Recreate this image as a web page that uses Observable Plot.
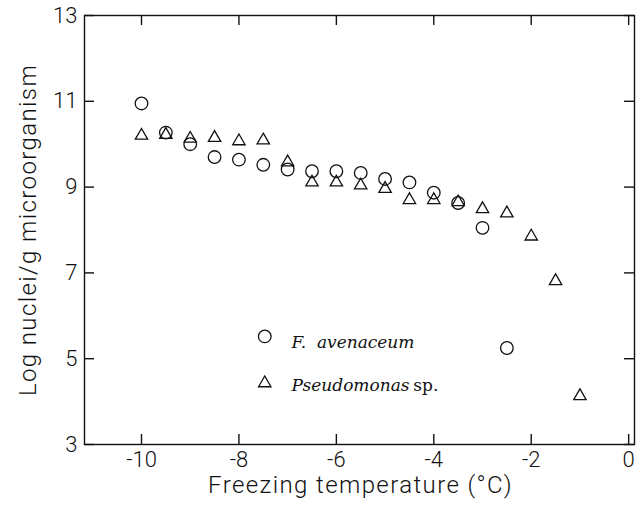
<!DOCTYPE html>
<html>
<head>
<meta charset="utf-8">
<script src="https://cdn.jsdelivr.net/npm/d3@7"></script>
<script src="https://cdn.jsdelivr.net/npm/@observablehq/plot@0.6"></script>
<style>
  html, body { margin: 0; padding: 0; background: #fff; }
  #chart svg { display: block; }
  #chart svg g[aria-label="text"][font-family^="Roboto"] text { letter-spacing: 1.4px; }
</style>
</head>
<body>
<div id="chart"></div>
<script>
// Data
const temps = [-10, -9.5, -9, -8.5, -8, -7.5, -7, -6.5, -6, -5.5, -5, -4.5, -4, -3.5, -3, -2.5];
const fusarium = [10.95, 10.27, 10.0, 9.7, 9.64, 9.52, 9.41, 9.37, 9.37, 9.33, 9.19, 9.11, 8.87, 8.63, 8.05, 5.25];
const pseudoTemps = [-10, -9.5, -9, -8.5, -8, -7.5, -7, -6.5, -6, -5.5, -5, -4.5, -4, -3.5, -3, -2.5, -2, -1.5, -1];
const pseudomonas = [10.2, 10.22, 10.13, 10.15, 10.07, 10.09, 9.58, 9.11, 9.11, 9.04, 8.96, 8.7, 8.7, 8.65, 8.49, 8.39, 7.85, 6.81, 4.13];
const xTicks = [-10, -8, -6, -4, -2, 0];
const yTicks = [3, 5, 7, 9, 11, 13];
const legendNames = ["F.\u00a0 avenaceum", "Pseudomonas"];
const legendX = -7.47;
const legendTextX = -6.92;
const legendY = [5.52, 4.43];
const legendTextY = [5.38, 4.37];
const spX = -4.42;

const fusData = temps.map((t, i) => ({t, v: fusarium[i]}));
const pseData = pseudoTemps.map((t, i) => ({t, v: pseudomonas[i]}));

const axisFont = "Roboto, 'Liberation Sans', sans-serif";
const serif = "'DejaVu Serif', serif";
const ink = "#111";

const chart = Plot.plot({
  width: 641,
  height: 512,
  marginLeft: 84,
  marginRight: 7,
  marginTop: 15,
  marginBottom: 68,
  style: {background: "#fff", color: ink},
  x: {domain: [-11.17, 0.12], ticks: xTicks},
  y: {domain: [3, 13], ticks: yTicks},
  marks: [
    Plot.frame({stroke: ink, strokeWidth: 1.4}),
    // inward ticks
    Plot.ruleX(xTicks, {x: d => d, insetTop: 419, stroke: ink, strokeWidth: 1.4}),
    Plot.ruleX(xTicks, {x: d => d, insetBottom: 419, stroke: ink, strokeWidth: 1.4}),
    Plot.ruleY(yTicks, {y: d => d, insetRight: 540, stroke: ink, strokeWidth: 1.4}),
    Plot.ruleY(yTicks, {y: d => d, insetLeft: 540, stroke: ink, strokeWidth: 1.4}),
    Plot.axisX({ticks: xTicks, tickSize: 0, tickPadding: 7, tickFormat: d => String(d), label: null, fontSize: 22, fontFamily: axisFont, fontWeight: 300}),
    Plot.axisY({ticks: yTicks, tickSize: 0, tickPadding: 7, tickFormat: d => String(d), label: null, fontSize: 22, fontFamily: axisFont, fontWeight: 300}),
    Plot.text(["Freezing temperature (°C)"], {frameAnchor: "bottom", dy: 48, dx: 1, fontSize: 24, fontFamily: axisFont, fontWeight: 300, fill: ink}),
    Plot.text(["Log nuclei/g microorganism"], {frameAnchor: "left", textAnchor: "middle", dx: -56, rotate: -90, fontSize: 24, fontFamily: axisFont, fontWeight: 300, fill: ink}),
    // data
    Plot.dot(fusData, {x: "t", y: "v", r: 6.3, stroke: ink, strokeWidth: 1.3, fill: "none"}),
    Plot.dot(pseData, {x: "t", y: "v", symbol: "triangle", r: 4.6, stroke: ink, strokeWidth: 1.3, fill: "none"}),
    // legend
    Plot.dot([0], {x: legendX, y: legendY[0], r: 6.3, stroke: ink, strokeWidth: 1.3, fill: "none"}),
    Plot.dot([0], {x: legendX, y: legendY[1], symbol: "triangle", r: 4.6, stroke: ink, strokeWidth: 1.3, fill: "none"}),
    Plot.text(legendNames, {x: legendTextX, y: (d, i) => legendTextY[i], text: d => d, textAnchor: "start", fontSize: 17, fontStyle: "italic", fontFamily: serif, fill: ink}),
    Plot.text(["sp."], {x: spX, y: legendTextY[1], textAnchor: "start", fontSize: 17, fontFamily: serif, fill: ink})
  ]
});
document.getElementById("chart").appendChild(chart);
</script>
</body>
</html>
